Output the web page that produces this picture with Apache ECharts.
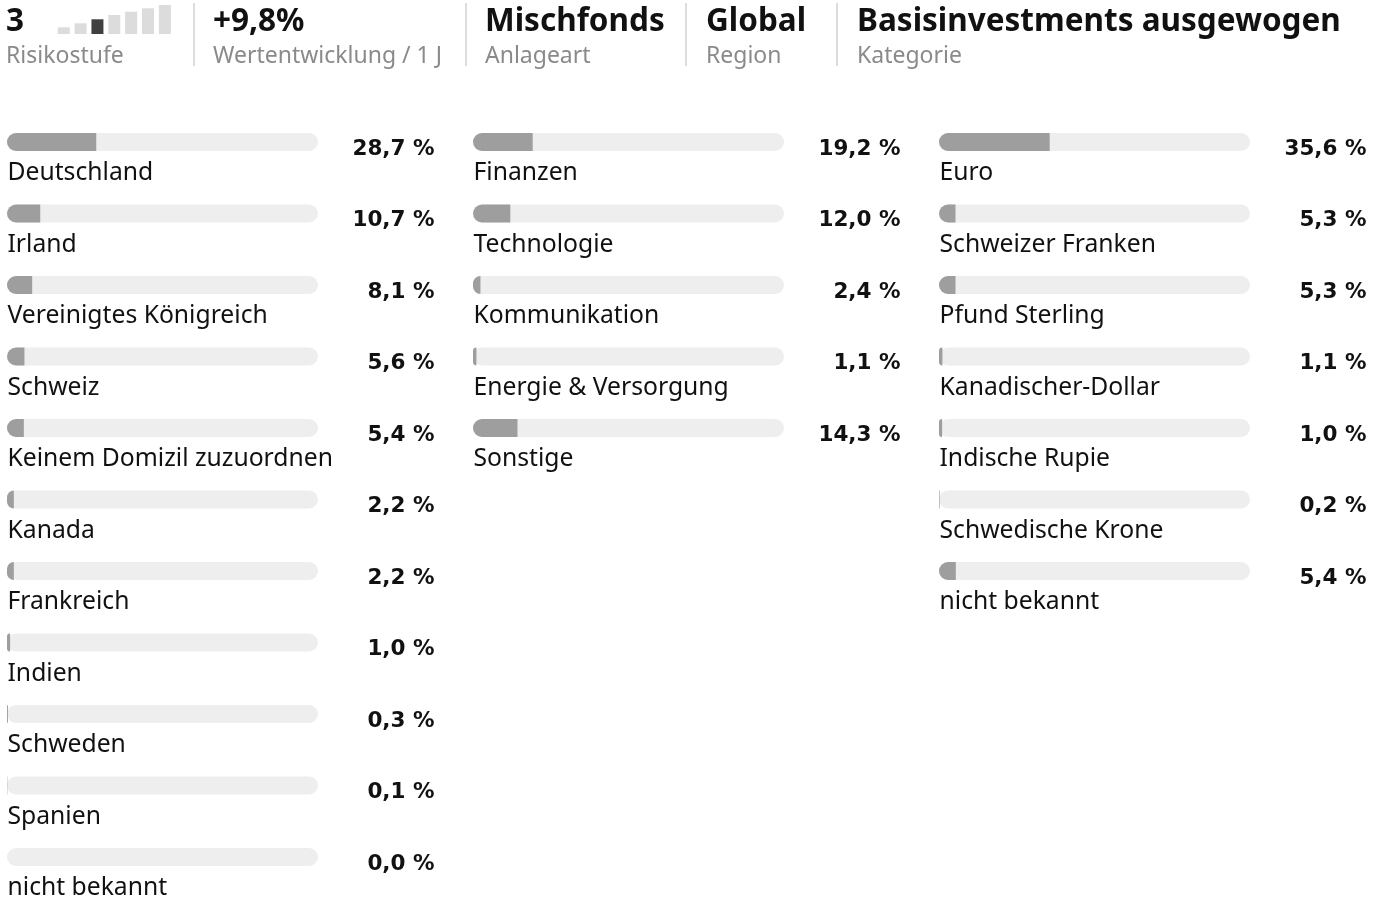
<!DOCTYPE html>
<html>
<head>
<meta charset="utf-8">
<title>Fonds Übersicht</title>
<script src="https://cdn.jsdelivr.net/npm/echarts@6/dist/echarts.min.js"></script>
<style>
  html, body { margin: 0; padding: 0; background: #fff; }
  #main { width: 1385px; height: 899px; }
</style>
</head>
<body>
<div id="main"></div>
<script>
// header key figures
var headerValues = ['3', '+9,8%', 'Mischfonds', 'Global', 'Basisinvestments ausgewogen'];
var headerLabels = ['Risikostufe', 'Wertentwicklung / 1 J', 'Anlageart', 'Region', 'Kategorie'];

// risk scale icon (7 steps, current level 3)
var riskLevel = 3;
var riskSteps = [1, 2, 3, 4, 5, 6, 7];
var riskStepHeights = [6.7, 10.7, 14.7, 19, 22.3, 25.7, 29];

// Länder
var countries = ['Deutschland', 'Irland', 'Vereinigtes Königreich', 'Schweiz', 'Keinem Domizil zuzuordnen',
    'Kanada', 'Frankreich', 'Indien', 'Schweden', 'Spanien', 'nicht bekannt'];
var countryValues = [28.7, 10.7, 8.1, 5.6, 5.4, 2.2, 2.2, 1.0, 0.3, 0.1, 0.0];

// Branchen
var sectors = ['Finanzen', 'Technologie', 'Kommunikation', 'Energie & Versorgung', 'Sonstige'];
var sectorValues = [19.2, 12.0, 2.4, 1.1, 14.3];

// Währungen
var currencies = ['Euro', 'Schweizer Franken', 'Pfund Sterling', 'Kanadischer-Dollar', 'Indische Rupie',
    'Schwedische Krone', 'nicht bekannt'];
var currencyValues = [35.6, 5.3, 5.3, 1.1, 1.0, 0.2, 5.4];

var dom = document.getElementById('main');
var myChart = echarts.init(dom);

var headerLeft = [6, 213, 485, 706, 857];
var separatorX = [194, 466, 686, 837];

var rowHeight = 71.5;
var firstRowCenter = 142;
var columnLeft = [7, 473, 939];
var trackWidth = 311;

function fmtPct(v) {
    return v.toFixed(1).replace('.', ',') + ' %';
}

var columns = [
    { names: countries, values: countryValues },
    { names: sectors, values: sectorValues },
    { names: currencies, values: currencyValues }
];

var titles = headerValues.map(function (t, i) {
    return {
        text: t,
        subtext: headerLabels[i],
        left: headerLeft[i],
        top: 6,
        itemGap: 7,
        padding: 0,
        textStyle: {
            fontFamily: 'Noto Sans',
            fontWeight: 'bold',
            fontSize: 31.5,
            lineHeight: 31.5,
            color: '#111'
        },
        subtextStyle: {
            fontFamily: 'Noto Sans',
            fontSize: 23,
            lineHeight: 23,
            color: '#8a8a8a'
        }
    };
});

var grids = [];
var xAxes = [];
var yAxes = [];
var series = [];

// risk icon grid
grids.push({ left: 55.3, top: 5, width: 118, height: 29 });
xAxes.push({ type: 'category', gridIndex: 0, data: riskSteps, show: false });
yAxes.push({ type: 'value', gridIndex: 0, min: 0, max: 29, show: false });
series.push({
    type: 'bar',
    xAxisIndex: 0,
    yAxisIndex: 0,
    barWidth: 12,
    silent: true,
    data: riskStepHeights.map(function (h, i) {
        return {
            value: h,
            itemStyle: { color: riskSteps[i] === riskLevel ? '#404040' : '#dcdcdc' }
        };
    })
});

columns.forEach(function (col, c) {
    var idx = c + 1;
    grids.push({
        left: columnLeft[c],
        top: firstRowCenter - rowHeight / 2,
        width: trackWidth,
        height: rowHeight * col.names.length
    });
    xAxes.push({ type: 'value', gridIndex: idx, min: 0, max: 100, show: false });
    yAxes.push({
        type: 'category', gridIndex: idx, data: col.names, inverse: true, show: false
    });
    // grey track with the category name underneath
    series.push({
        type: 'bar',
        xAxisIndex: idx,
        yAxisIndex: idx,
        barWidth: 18,
        silent: true,
        z: 2,
        itemStyle: { color: '#eeeeee', borderRadius: 9 },
        label: {
            show: true,
            position: [0.5, 40],
            align: 'left',
            verticalAlign: 'middle',
            fontFamily: 'Noto Sans',
            fontSize: 24.7,
            color: '#111',
            formatter: function (p) { return p.name; }
        },
        data: col.values.map(function () { return 100; })
    });
    // filled share with the value on the right
    series.push({
        type: 'bar',
        xAxisIndex: idx,
        yAxisIndex: idx,
        barWidth: 18,
        barGap: '-100%',
        silent: true,
        z: 3,
        itemStyle: { color: '#9e9e9e', borderRadius: [9, 0, 0, 9] },
        label: {
            show: true,
            position: [427.5, 16],
            align: 'right',
            verticalAlign: 'middle',
            fontFamily: 'DejaVu Sans',
            fontWeight: 'bold',
            fontSize: 21.5,
            color: '#111',
            formatter: function (p) { return fmtPct(p.value); }
        },
        data: col.values
    });
});

var option = {
    animation: false,
    backgroundColor: '#fff',
    title: titles,
    grid: grids,
    xAxis: xAxes,
    yAxis: yAxes,
    graphic: separatorX.map(function (x) {
        return {
            type: 'line',
            shape: { x1: x, y1: 3, x2: x, y2: 66 },
            style: { stroke: '#dddddd', lineWidth: 2 },
            silent: true
        };
    }),
    series: series
};

if (option && typeof option === 'object') {
    myChart.setOption(option);
}
</script>
</body>
</html>
